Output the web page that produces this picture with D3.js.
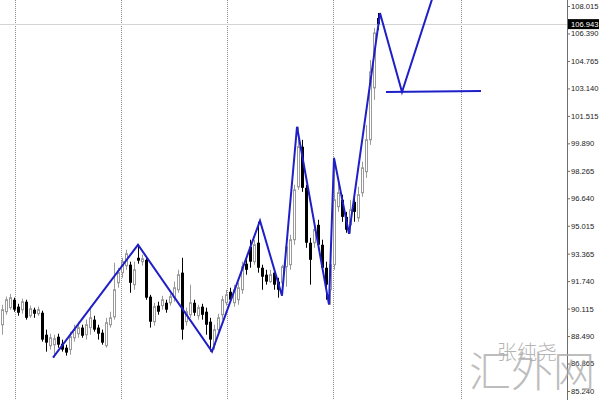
<!DOCTYPE html>
<html><head><meta charset="utf-8">
<script src="https://cdn.jsdelivr.net/npm/d3@7"></script>
<style>html,body{margin:0;padding:0;background:#fff}svg{display:block}</style>
</head><body>
<svg id="chart" width="600" height="400"></svg>
<script>
// ---- data ----
const openP = [89.16,89.93,90.17,90.64,90.23,90.05,90.52,89.69,90.05,89.81,89.87,88.57,87.92,87.98,88.45,88.04,87.80,87.69,88.39,88.63,88.99,88.57,88.99,89.46,88.99,88.69,87.92,89.16,89.63,91.64,92.24,92.65,92.71,91.53,93.12,92.89,93.00,90.82,89.34,90.29,90.29,90.46,90.46,90.76,91.23,92.24,89.34,89.75,90.46,89.69,90.23,89.93,89.34,87.98,88.87,89.75,90.46,91.11,90.46,90.64,91.23,92.77,93.77,92.89,94.01,92.53,92.12,91.71,92.24,91.71,91.64,92.59,92.71,94.19,97.32,99.69,97.26,94.01,94.01,95.07,93.89,92.53,91.23,92.71,96.14,96.55,95.54,95.07,96.43,95.48,96.97,98.21,100.10,103.17,107.31];
const closeP = [90.05,90.64,90.76,90.05,89.87,90.52,89.57,90.11,89.81,90.05,88.28,88.10,88.39,88.33,87.98,87.69,87.51,88.45,88.87,88.99,88.51,89.16,89.57,88.87,88.63,88.10,89.28,89.57,91.23,92.24,92.89,93.36,91.64,92.41,92.95,93.06,90.76,89.34,90.23,89.93,90.64,90.05,90.82,91.35,92.12,88.87,89.93,90.46,89.87,90.17,89.75,89.16,88.28,88.87,89.57,90.64,90.93,90.64,91.23,91.35,92.59,92.41,92.89,93.89,92.53,92.00,91.71,92.12,91.53,91.23,92.59,93.77,94.19,97.14,99.69,97.26,94.01,93.00,94.78,93.89,92.53,91.53,92.71,96.55,96.97,95.54,94.78,95.96,95.84,96.85,98.44,100.10,104.12,106.42,106.943];
const highP = [90.34,90.82,90.99,90.76,90.40,90.70,90.64,90.29,90.17,90.23,89.99,88.87,88.63,88.57,88.63,88.28,87.98,88.75,89.16,89.34,89.16,89.46,90.17,89.69,89.16,88.87,89.57,89.93,92.83,92.53,93.12,93.60,92.89,92.89,93.89,93.30,93.12,90.93,90.46,90.52,90.87,90.64,90.99,91.71,92.41,93.12,90.17,91.53,90.64,90.34,90.40,90.17,89.57,89.16,89.81,90.87,91.23,91.35,91.53,91.64,92.89,93.12,94.19,94.19,95.25,92.71,92.41,92.41,92.41,91.94,92.71,94.19,94.48,97.44,100.87,100.10,97.44,94.30,95.25,95.37,94.19,92.89,93.60,99.03,97.55,96.85,95.84,96.55,96.67,97.32,98.80,100.98,104.82,106.71,107.60];
const lowP = [88.57,89.75,90.05,89.93,89.69,89.81,89.46,89.57,89.57,89.69,88.16,87.57,87.69,87.21,87.80,87.57,87.33,87.39,88.16,88.39,88.39,88.28,88.57,88.75,88.28,87.98,87.80,88.99,89.46,91.35,91.94,92.41,91.05,91.23,92.77,92.65,90.64,88.99,89.10,89.75,90.05,89.87,90.29,90.52,91.05,88.28,89.10,89.57,89.69,89.46,89.46,88.57,87.57,87.69,88.57,89.46,90.29,90.52,90.23,90.34,90.99,92.12,92.53,92.71,92.24,91.23,91.53,91.64,91.23,90.76,90.87,91.41,92.41,93.89,97.14,97.02,93.71,91.53,93.71,93.60,92.30,90.64,90.34,92.41,95.84,95.25,94.60,94.54,95.25,95.25,96.73,97.85,99.80,102.46,106.60];
const tickLabels = ["108.015","106.390","104.765","103.140","101.515","99.890","98.265","96.640","95.015","93.365","91.740","90.115","88.490","86.865","85.240"];
const separatorIdx = [3.25, 29.75, 56.25, 82.75, 114.75];
const zigIdx   = [12.75, 34, 52.5, 64.5, 70, 73.75, 81.75, 83, 86.75, 94.5, 100, 108.5];
const zigPrice = [87.21, 93.89, 87.57, 95.31, 90.88, 100.87, 90.35, 99.03, 94.54, 107.60, 102.93, 109.14];
const levelIdx = [96, 119.75];
const levelPrice = [102.93, 102.99];
const lastPrice = 106.943;
const wmSmall = "张纯尧";
const wmBig = "汇外网";

// ---- layout ----
const W = 600, H = 400, axisX = 567;
const svg = d3.select("#chart");
const x = d3.scaleLinear().domain([0, 140]).range([2, 562]);
const y = d3.scaleLinear().domain([85.240, 108.015]).range([391, 6]);

svg.append("defs").append("clipPath").attr("id","plot")
  .append("rect").attr("x",0).attr("y",0).attr("width",axisX).attr("height",H);
const plot = svg.append("g").attr("clip-path","url(#plot)");

// period separators
plot.selectAll("line.sep").data(separatorIdx).join("line")
  .attr("class","sep")
  .attr("x1", d => Math.round(x(d)) + 0.5).attr("x2", d => Math.round(x(d)) + 0.5)
  .attr("y1", 0).attr("y2", H)
  .attr("stroke", "#8a8a8a").attr("stroke-width", 1).attr("stroke-dasharray", "1,1");

// current price line
plot.append("line")
  .attr("x1", 0).attr("x2", axisX)
  .attr("y1", Math.round(y(lastPrice)) + 0.5).attr("y2", Math.round(y(lastPrice)) + 0.5)
  .attr("stroke", "#d4d4d4").attr("stroke-width", 1);

// candles
const bars = d3.range(openP.length).map(i => ({i, o: openP[i], c: closeP[i], h: highP[i], l: lowP[i]}));
const cg = plot.append("g");
const cand = cg.selectAll("g").data(bars).join("g");
cand.append("line")
  .attr("x1", d => Math.round(x(d.i)) + 0.5).attr("x2", d => Math.round(x(d.i)) + 0.5)
  .attr("y1", d => y(d.h)).attr("y2", d => y(d.l))
  .attr("stroke", d => d.c >= d.o ? "#9a9a9a" : "#000").attr("stroke-width", 1);
cand.append("rect")
  .attr("x", d => d.c >= d.o ? Math.round(x(d.i)) - 0.5 : Math.round(x(d.i)) - 1)
  .attr("width", d => d.c >= d.o ? 2 : 3)
  .attr("y", d => Math.min(y(d.o), y(d.c)))
  .attr("height", d => Math.max(1, Math.abs(y(d.o) - y(d.c))))
  .attr("fill", d => d.c >= d.o ? "#fff" : "#000")
  .attr("stroke", d => d.c >= d.o ? "#9a9a9a" : "none")
  .attr("stroke-width", 1);

// zigzag
const line = d3.line().x(d => x(d[0])).y(d => y(d[1]));
plot.append("path")
  .datum(zigIdx.map((d, k) => [d, zigPrice[k]]))
  .attr("d", line).attr("fill", "none")
  .attr("stroke", "#1f1fc8").attr("stroke-width", 2).attr("stroke-linejoin", "miter");
plot.append("path")
  .datum(levelIdx.map((d, k) => [d, levelPrice[k]]))
  .attr("d", line).attr("fill", "none")
  .attr("stroke", "#1f1fc8").attr("stroke-width", 2);

// right axis
svg.append("line").attr("x1", axisX + 0.5).attr("x2", axisX + 0.5).attr("y1", 0).attr("y2", H)
  .attr("stroke", "#6e6e6e").attr("stroke-width", 1);
const tickVals = tickLabels.map(Number);
const axis = d3.axisRight(y).tickValues(tickVals).tickSize(3).tickPadding(1)
  .tickFormat((d, k) => tickLabels[k]);
const ag = svg.append("g").attr("transform", `translate(${axisX},0)`).call(axis);
ag.select(".domain").remove();
ag.selectAll(".tick line").attr("stroke", "#6e6e6e");
ag.selectAll(".tick text").attr("fill", "#222")
  .style("font-family", "'Liberation Sans', Arial, sans-serif").style("font-size", "7.6px");

// current price label
const ly = y(lastPrice);
svg.append("rect").attr("x", axisX + 1).attr("y", ly - 5).attr("width", 31).attr("height", 10).attr("fill", "#000");
svg.append("text").attr("x", axisX + 4).attr("y", ly).attr("dy", "0.32em")
  .attr("fill", "#fff").style("font-family", "'Liberation Sans', Arial, sans-serif").style("font-size", "7.6px")
  .text(lastPrice.toFixed(3));

// watermark
svg.append("text").attr("x", 527).attr("y", 360).attr("text-anchor", "middle")
  .style("font-family", "'Noto Sans CJK SC', sans-serif").style("font-size", "20px").style("font-weight", 300)
  .attr("fill", "#b4b4b4").text(wmSmall);
svg.append("text").attr("x", 532).attr("y", 387).attr("text-anchor", "middle")
  .style("font-family", "'Noto Sans CJK SC', sans-serif").style("font-size", "42px").style("font-weight", 300)
  .attr("fill", "#a8a8a8").attr("opacity", 0.75).text(wmBig);
</script>
</body></html>
